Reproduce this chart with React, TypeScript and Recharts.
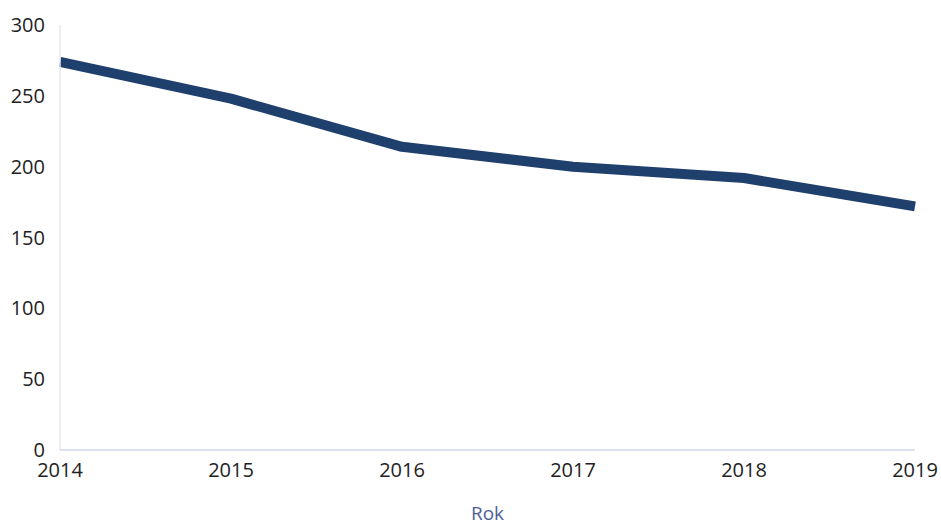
import { LineChart, Line, XAxis, YAxis } from 'recharts';

const years = ['2014', '2015', '2016', '2017', '2018', '2019'];
const values = [274, 248, 214, 200, 192, 172];
const yTicks = [0, 50, 100, 150, 200, 250, 300];

const data = years.map((year, i) => ({ year, value: values[i] }));

export default function App() {
    return (
        <div style={{ width: 941, height: 526, background: '#fff', fontFamily: '"Open Sans", sans-serif' }}>
            {/* drop the default body margin so the 2019 label fits at the right edge */}
            <style>{'html, body { margin: 0; padding: 0; overflow: hidden; }'}</style>
            <LineChart width={941} height={526} data={data} margin={{ top: 25, right: 26, bottom: 0, left: 0 }}>
                <XAxis
                    dataKey="year"
                    height={76}
                    axisLine={{ stroke: '#d3d7e6', strokeWidth: 1.5 }}
                    tickLine={false}
                    tickMargin={7}
                    interval={0}
                    tick={{ fill: '#222', fontSize: 20 }}
                    label={{ value: 'Rok', position: 'insideBottom', offset: 6, fill: '#4f5f96', fontSize: 19 }}
                />
                <YAxis
                    width={60}
                    domain={[0, 300]}
                    ticks={yTicks}
                    axisLine={{ stroke: '#e6e8ef', strokeWidth: 1.5 }}
                    tickLine={false}
                    tickMargin={9}
                    tick={{ fill: '#222', fontSize: 20 }}
                />
                <Line
                    type="linear"
                    dataKey="value"
                    stroke="#1f3f6d"
                    strokeWidth={10}
                    strokeLinecap="butt"
                    strokeLinejoin="round"
                    dot={false}
                    activeDot={false}
                    isAnimationActive={false}
                />
            </LineChart>
        </div>
    );
}
